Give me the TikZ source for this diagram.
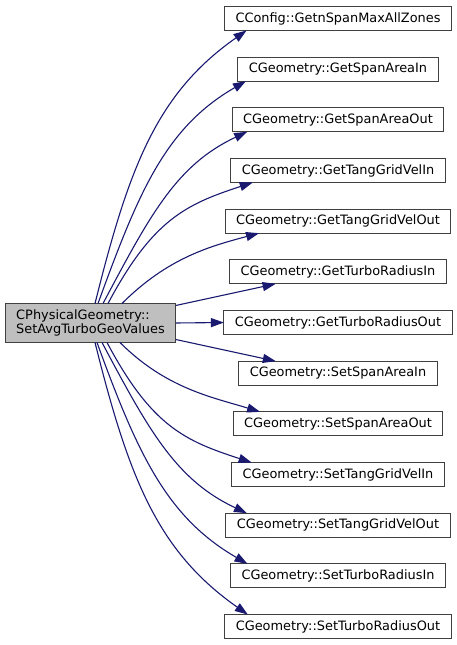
\documentclass[tikz,border=0pt]{standalone}
\usepackage{fontspec}
\setmainfont{DejaVu Sans}
\usetikzlibrary{arrows.meta,positioning}
\definecolor{dxedge}{RGB}{25,25,112}
\definecolor{dxgray}{RGB}{191,191,191}

\begin{document}
\begin{tikzpicture}[x=1pt,y=1pt,
  fnbox/.style={draw=black!75,line width=1pt,fill=white,minimum height=24pt,
    inner xsep=11pt,inner ysep=0pt,outer sep=0pt,font=\fontsize{12.9}{14}\selectfont},
  call/.style={-{Triangle[length=13pt,width=9pt]},dxedge,line width=1.1pt},
  node distance=26.67pt
]
  \useasboundingbox (0,0) rectangle (457,645);
  % caller
  \node[fnbox,fill=dxgray,align=left,minimum height=39pt] (src) at (90.5,322)
    {CPhysicalGeometry::\\SetAvgTurboGeoValues};

  % callees
  \node[fnbox] (t1) at (338,626.5) {CConfig::GetnSpanMaxAllZones};
  \node[fnbox,below=of t1] (t2) {CGeometry::GetSpanAreaIn};
  \node[fnbox,below=of t2] (t3) {CGeometry::GetSpanAreaOut};
  \node[fnbox,below=of t3] (t4) {CGeometry::GetTangGridVelIn};
  \node[fnbox,below=of t4] (t5) {CGeometry::GetTangGridVelOut};
  \node[fnbox,below=of t5] (t6) {CGeometry::GetTurboRadiusIn};
  \node[fnbox,below=of t6] (t7) {CGeometry::GetTurboRadiusOut};
  \node[fnbox,below=of t7] (t8) {CGeometry::SetSpanAreaIn};
  \node[fnbox,below=of t8] (t9) {CGeometry::SetSpanAreaOut};
  \node[fnbox,below=of t9] (t10) {CGeometry::SetTangGridVelIn};
  \node[fnbox,below=of t10] (t11) {CGeometry::SetTangGridVelOut};
  \node[fnbox,below=of t11] (t12) {CGeometry::SetTurboRadiusIn};
  \node[fnbox,below=of t12] (t13) {CGeometry::SetTurboRadiusOut};

  % calls
  \draw[call] ([xshift=4.5pt]src.north) .. controls +(76:140) and +(215:110) .. ([xshift=22pt]t1.south west);
  \draw[call] ([xshift=7.5pt]src.north) .. controls +(70:119) and +(210:93) .. ([xshift=8pt]t2.south west);
  \draw[call] ([xshift=12.5pt]src.north) .. controls +(62:100) and +(205:78) .. ([xshift=15pt]t3.south west);
  \draw[call] ([xshift=17.5pt]src.north) .. controls +(62:95) and +(198:70) .. ([xshift=22pt]t4.south west);
  \draw[call] ([xshift=31.5pt]src.north) .. controls +(45:65) and +(195:50) .. ([xshift=34pt]t5.south west);
  \draw[call] ([yshift=-2pt]src.north east) -- ([xshift=46pt]t6.south west);
  \draw[call] (src.east) -- (t7.west);
  \draw[call] ([yshift=3pt]src.south east) -- ([xshift=37pt]t8.north west);
  \draw[call] ([xshift=29.5pt]src.south) .. controls +(-45:65) and +(163:50) .. ([xshift=27pt]t9.north west);
  \draw[call] ([xshift=16.5pt]src.south) .. controls +(-62:95) and +(162:70) .. ([xshift=20pt]t10.north west);
  \draw[call] ([xshift=11.5pt]src.south) .. controls +(-62:100) and +(155:78) .. ([xshift=21pt]t11.north west);
  \draw[call] ([xshift=6.5pt]src.south) .. controls +(-70:119) and +(150:93) .. ([xshift=17pt]t12.north west);
  \draw[call] ([xshift=4.5pt]src.south) .. controls +(-76:140) and +(145:110) .. ([xshift=23pt]t13.north west);
\end{tikzpicture}
\end{document}
